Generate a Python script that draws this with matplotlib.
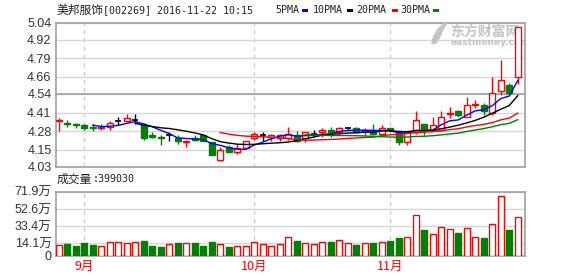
import numpy as np
import pandas as pd
import matplotlib
matplotlib.use("Agg")
import matplotlib.pyplot as plt
from matplotlib.patches import Rectangle, Polygon

plt.rcParams['font.family'] = ['Noto Sans CJK SC', 'DejaVu Sans']

# daily candles, 2016-08-29 .. 2016-11-22
opens = [4.35, 4.34, 4.33, 4.32, 4.31, 4.30, 4.31, 4.35, 4.35, 4.36,
         4.32, 4.25, 4.24, 4.25, 4.23, 4.20, 4.23, 4.25, 4.20, 4.08,
         4.17, 4.13, 4.16, 4.23, 4.25, 4.24, 4.23, 4.23, 4.25, 4.23,
         4.26, 4.27, 4.29, 4.27, 4.30, 4.30, 4.28, 4.29, 4.26, 4.30,
         4.28, 4.20, 4.27, 4.33, 4.29, 4.29, 4.40, 4.42, 4.38, 4.46,
         4.46, 4.41, 4.56, 4.60, 4.66]
closes = [4.36, 4.33, 4.32, 4.30, 4.30, 4.31, 4.34, 4.35, 4.37, 4.36,
          4.23, 4.24, 4.23, 4.25, 4.21, 4.21, 4.22, 4.21, 4.11, 4.15,
          4.13, 4.16, 4.21, 4.26, 4.25, 4.25, 4.25, 4.26, 4.21, 4.27,
          4.26, 4.29, 4.27, 4.30, 4.30, 4.27, 4.29, 4.26, 4.30, 4.29,
          4.20, 4.27, 4.36, 4.29, 4.32, 4.38, 4.41, 4.39, 4.46, 4.47,
          4.42, 4.55, 4.64, 4.55, 5.01]
highs = [4.37, 4.36, 4.34, 4.33, 4.33, 4.33, 4.35, 4.38, 4.40, 4.40,
         4.34, 4.27, 4.25, 4.27, 4.25, 4.22, 4.25, 4.25, 4.20, 4.17,
         4.18, 4.19, 4.21, 4.27, 4.27, 4.26, 4.26, 4.31, 4.28, 4.27,
         4.29, 4.30, 4.31, 4.31, 4.31, 4.31, 4.30, 4.33, 4.32, 4.30,
         4.28, 4.28, 4.42, 4.33, 4.38, 4.42, 4.45, 4.43, 4.52, 4.50,
         4.48, 4.66, 4.78, 4.62, 5.01]
lows = [4.28, 4.31, 4.30, 4.29, 4.28, 4.29, 4.29, 4.32, 4.35, 4.33,
        4.22, 4.23, 4.18, 4.21, 4.19, 4.17, 4.21, 4.21, 4.11, 4.07,
        4.13, 4.12, 4.16, 4.22, 4.21, 4.21, 4.21, 4.22, 4.20, 4.20,
        4.24, 4.24, 4.24, 4.25, 4.29, 4.27, 4.25, 4.25, 4.25, 4.27,
        4.18, 4.18, 4.26, 4.25, 4.28, 4.28, 4.37, 4.38, 4.38, 4.44,
        4.39, 4.39, 4.53, 4.54, 4.61]
# volume, 万股
volumes = [11.9, 13.4, 11.2, 14.5, 12.3, 10.8, 15.3, 15.3, 14.9, 15.7,
           16.8, 11.2, 10.1, 13.0, 14.5, 14.5, 14.5, 11.2, 15.7, 13.0,
           10.1, 11.2, 11.2, 15.3, 13.0, 11.2, 13.0, 20.9, 16.8, 14.2,
           13.0, 15.3, 15.7, 17.5, 14.2, 12.3, 14.2, 14.5, 15.3, 16.8,
           20.1, 20.9, 45.5, 29.1, 24.2, 32.1, 29.8, 25.7, 30.9, 20.9,
           20.1, 35.4, 66.7, 29.1, 43.2]

month_idx = [3, 23, 39]
month_labels = ['9月', '10月', '11月']
price_ticks = [4.03, 4.15, 4.28, 4.41, 4.54, 4.66, 4.79, 4.92, 5.04]
vol_ticks = [0, 14.1, 33.4, 52.6, 71.9]
vol_labels = ['0', '14.1万', '33.4万', '52.6万', '71.9万']
ma_periods = [5, 10, 20, 30]
ma_names = ['5PMA', '10PMA', '20PMA', '30PMA']
ma_colors = ['#0000ff', '#000000', '#ff0000', '#008000']

RED = '#ff0000'
GREEN = '#008000'
FRAME = '#a0a0a0'
GRID = '#d6d6d6'
TXT = '#333333'
WM = '#c4c4c4'
num_font = ['Liberation Sans', 'Noto Sans CJK SC']
mono_font = ['DejaVu Sans Mono', 'Noto Sans CJK SC']

o = np.array(opens)
c = np.array(closes)
h = np.array(highs)
l = np.array(lows)
x = np.arange(len(c))

W, H = 578, 276
fig = plt.figure(figsize=(W / 100, H / 100), dpi=100)
ax = fig.add_axes([0.0964, 0.396, 0.812, 0.5217])
axv = fig.add_axes([0.0964, 0.0725, 0.812, 0.233])

for a in (ax, axv):
    a.set_xlim(-0.35, 54.86)
    for s in a.spines.values():
        s.set_color(FRAME)
        s.set_linewidth(1.2)
    a.tick_params(length=0, labelsize=9, labelcolor=TXT)
    a.yaxis.grid(True, color=GRID, lw=1)
    a.set_axisbelow(True)
    for i in month_idx:
        a.axvline(i, color='#cccccc', lw=1, ls=(0, (3, 3)), zorder=0)

# watermark (under the candles)
ax.text(0.84, 0.94, '东方财富网', transform=ax.transAxes, fontsize=10,
        fontweight='bold', color=WM, va='center', ha='left',
        clip_on=True, zorder=1)
ax.text(0.842, 0.862, 'eastmoney.com', transform=ax.transAxes, fontsize=6.5,
        fontweight='bold', color=WM, va='center', ha='left',
        family='DejaVu Sans', clip_on=True, zorder=1)
logo = [(431, 44), (433, 36), (438, 28), (446, 21), (447, 24), (443, 31),
        (440, 38), (436, 44)]
fig.add_artist(Polygon([(px / W, 1 - py / H) for px, py in logo],
                       closed=True, transform=fig.transFigure,
                       facecolor=WM, lw=0, zorder=0.5))

# candles
w = 0.7
for i in x:
    if c[i] > o[i]:
        col = RED
    elif c[i] < o[i]:
        col = GREEN
    else:
        col = '#000000'
    ax.vlines(i, l[i], h[i], color=col, lw=1, zorder=2)
    if c[i] == o[i]:
        ax.hlines(o[i], i - w / 2, i + w / 2, color=col, lw=1.2, zorder=3)
    elif c[i] > o[i]:
        ax.bar(i, c[i] - o[i], bottom=o[i], width=w, facecolor='white',
               edgecolor=RED, lw=1, zorder=3)
    else:
        ax.bar(i, o[i] - c[i], bottom=c[i], width=w, facecolor=GREEN,
               edgecolor=GREEN, lw=1, zorder=3)

# moving averages
cs = pd.Series(closes)
for p, col in zip(ma_periods, ma_colors):
    ax.plot(x, cs.rolling(p).mean(), color=col, lw=1, zorder=4)

ax.axhline(4.54, color=FRAME, lw=1.2, zorder=1)
ax.set_ylim(4.03, 5.04)
ax.set_yticks(price_ticks)
ax.set_yticklabels([f'{t:.2f}' for t in price_ticks], family=num_font)
ax.tick_params(axis='y', pad=3)
ax.set_xticks([])

# volume
up = c >= o
axv.bar(x[up], np.array(volumes)[up], width=0.74, facecolor='white',
        edgecolor=RED, lw=1, zorder=3)
axv.bar(x[~up], np.array(volumes)[~up], width=0.74, facecolor=GREEN,
        edgecolor=GREEN, lw=1, zorder=3)
axv.set_ylim(0, 71.9)
axv.set_yticks(vol_ticks)
axv.set_yticklabels(vol_labels, family=num_font)
axv.tick_params(axis='y', pad=3)
axv.set_xticks(month_idx)
axv.set_xticklabels(month_labels, color=RED, fontsize=9)
axv.tick_params(axis='x', pad=3, labelcolor=RED)

# header
ty = 1 - 10 / H
fig.text(57 / W, ty, '美邦服饰', fontsize=8.5, color='#222222',
         va='center', ha='left')
fig.text(103 / W, ty, '[002269] 2016-11-22 10:15', fontsize=7.2,
         family=mono_font, color='#222222', va='center', ha='left')
leg_x = [275, 312.5, 356, 400]
mk_x = [302, 346.5, 391.5, 433]
for name, col, tx, mx in zip(ma_names, ma_colors, leg_x, mk_x):
    fig.text(tx / W, ty, name, fontsize=7.2, family=mono_font,
             color='#222222', va='center', ha='left')
    fig.add_artist(Rectangle((mx / W, 1 - 12 / H), 6 / W, 3 / H,
                             transform=fig.transFigure, color=col, lw=0))
vy = 1 - 179 / H
fig.text(57 / W, vy, '成交量', fontsize=8.5, color='#222222',
         va='center', ha='left')
fig.text(93 / W, vy, ':399030', fontsize=7.2, family=mono_font,
         color='#222222', va='center', ha='left')

fig.savefig('out.png', dpi=100)
